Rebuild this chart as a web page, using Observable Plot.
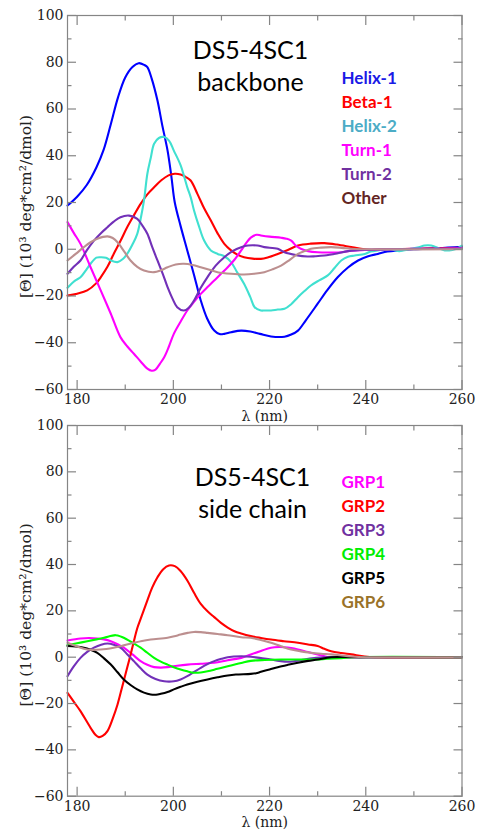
<!DOCTYPE html>
<html>
<head>
<meta charset="utf-8">
<script src="https://cdn.jsdelivr.net/npm/d3@7"></script>
<script src="https://cdn.jsdelivr.net/npm/@observablehq/plot@0.6"></script>
<style>
  html, body { margin: 0; padding: 0; background: #fff; }
  #wrap { position: relative; width: 478px; height: 834px; overflow: hidden; }
  #top, #bottom { position: absolute; left: 0; }
  #top { top: 0; }
  #bottom { top: 410px; }
</style>
</head>
<body>
<div id="wrap"><div id="top"></div><div id="bottom"></div></div>
<script>
// ---------- tick values ----------
const xMajor = [180, 200, 220, 240, 260];
const xMinor = [190, 210, 230, 250];
const yMajor = [-60, -40, -20, 0, 20, 40, 60, 80, 100];
const yMinor = [-50, -30, -10, 10, 30, 50, 70, 90];
const xLabel = "λ (nm)";
const yLabel = "[Θ] (10³ deg*cm²/dmol)";

// ---------- top panel: backbone ----------
const topTitle = ["DS5-4SC1", "backbone"];
const topNames = ["Helix-1", "Beta-1", "Helix-2", "Turn-1", "Turn-2", "Other"];
const topLineColors = ["#0000ff", "#ff0000", "#40e0d0", "#ff00ff", "#7230b8", "#bc8f8f"];
const topLegendColors = ["#1a1ae6", "#ff0000", "#4bacc6", "#ff00ff", "#7030a0", "#632523"];

const helix1 = [[178,18.7],[180,22.5],[182,27.5],[184,35],[185.5,42.5],[187,53.5],[188.5,65],[190,73.5],[191.5,78],[192.8,79.6],[194,78.8],[194.6,77.9],[195.5,73],[196.7,63.6],[197.7,53],[198.8,42.2],[199.6,31],[200.3,20],[201.5,10],[202.9,-0.5],[204.3,-11],[205.7,-21.9],[207,-29.5],[208.5,-34.8],[209.6,-36.3],[210.6,-36.2],[212,-35.5],[214.1,-34.8],[216,-35.2],[218,-36.2],[220.3,-37.3],[223.1,-37.4],[224.5,-36.5],[225.9,-34.8],[227.5,-30.5],[230,-23.3],[232,-17.5],[234.2,-11.9],[236.3,-7.8],[238.4,-4.8],[240.5,-3],[242.5,-2],[244.5,-1],[246.7,-0.5],[250,0],[255,0.4],[260,1]];
const beta1 = [[178,-19.8],[180,-19],[182.1,-17.6],[184,-14.5],[184.9,-12],[186.3,-7.5],[187.6,-2],[189,3.5],[190.4,9.4],[191.8,14.5],[193.2,19.4],[194.6,23.5],[196,26.5],[197.5,29.5],[199,31.6],[200.3,32.3],[201.5,32],[202.5,31],[203.6,29.4],[205,23.7],[206.4,17.5],[207.8,12.3],[209.2,6.8],[210.6,2.3],[212,-0.5],[213.3,-2.3],[214.7,-3.4],[216.5,-4],[218.2,-4.1],[219.6,-3.5],[221.7,-2],[223.8,-0.3],[225.9,1.6],[228.6,2.4],[231.4,2.6],[234,2],[237,0.9],[239,0.2],[241.1,-0.3],[244,0],[250,0.2],[260,0.6]];
const helix2 = [[178,-16.5],[179.5,-13.5],[180.7,-12],[182,-8.5],[182.8,-6.2],[184,-3.6],[184.9,-3.4],[186,-3.6],[187,-4.8],[188.4,-5.5],[189.5,-4.2],[190.4,-2],[191.5,2],[192.5,6.6],[193.3,14],[193.9,20.9],[194.6,32.3],[195.3,39],[196,45.1],[197,47.6],[198.1,48],[199.1,46.5],[200.1,42.2],[201.5,36],[202.9,26.5],[203.6,22.3],[204.3,16.6],[205.3,10],[206.4,3.7],[207.8,-0.5],[209.2,-2],[210.6,-3],[212,-5.5],[213.3,-10],[214.7,-14.8],[216,-20.5],[216.9,-24.8],[218.2,-26.2],[219,-26.2],[220.3,-26.2],[221.7,-25.8],[223.1,-25.5],[224.5,-23.5],[225.9,-20.5],[227.2,-18],[228.6,-15.5],[230.4,-13.2],[232.1,-11.2],[233.5,-8],[234.9,-4.8],[236.3,-3.2],[237.7,-2.7],[239.8,-2],[241,-1],[242.5,-0.5],[245,0],[247,-0.8],[249,0],[251,0.8],[252.2,1.6],[253.6,1.6],[255,0.5],[256.4,-0.5],[258,-0.3],[259,0.3],[260,1.6]];
const turn1 = [[178,11.6],[179.3,7],[180.7,2.3],[182.8,-7.7],[184.9,-17.6],[187,-27.6],[189,-37.6],[190.4,-41.5],[191.8,-44.7],[193.2,-48],[194.6,-51.1],[195.5,-52],[196.3,-51.5],[197.2,-49],[198.1,-46.2],[199.1,-41.5],[200.1,-36.2],[201.5,-31],[202.9,-26.2],[204.3,-22.5],[205.7,-19.1],[207.1,-16.2],[208.5,-13.4],[209.9,-10.5],[211.3,-7.7],[212.7,-4.5],[214.1,-0.5],[215.2,2.8],[216.1,5],[217.3,6.2],[218.2,5.9],[220,5.4],[222.4,4.9],[223.5,4.5],[224.5,3.7],[225.5,1.5],[226.5,0.2],[228,-0.8],[230,-1.3],[232.5,-1.4],[234.9,-1.3],[237,-0.6],[239.8,-0.3],[245,0],[250,0.2],[255,0.2],[260,0.5]];
const turn2 = [[178,-10.5],[179.3,-7.5],[180.7,-4.8],[182,-0.5],[183.5,3.7],[185,7],[186.3,9.4],[187.6,11.8],[189,13.7],[190.8,14.4],[192.5,13],[193.6,10],[194.6,6.6],[195.6,1],[196.7,-4.8],[197.8,-10.5],[198.8,-16.2],[199.8,-21],[200.8,-24.8],[202.2,-26.2],[203.2,-25],[204.3,-21.9],[205.7,-16.5],[207.1,-11.9],[208.8,-7],[210.6,-3.4],[212.3,-0.8],[214.1,0.9],[215.5,1.6],[217.5,1.6],[218.9,0.9],[221.7,0.2],[223.1,-1.3],[225.5,-2.5],[227.9,-3.1],[229.5,-3],[231.4,-2.7],[234,-1.8],[236.3,-0.8],[240,-0.2],[245,0],[260,0.3]];
const other = [[178,-4.8],[179.7,-2],[181.4,0.9],[182.8,3],[184.2,4.5],[186.3,5.5],[187.4,4.8],[188.4,3],[189.8,-1],[191.1,-4.8],[192.5,-7.5],[193.9,-9.1],[196,-9.8],[197.4,-9],[198.8,-7.7],[200.5,-6.5],[202.2,-6.2],[204,-6.7],[205.7,-7.7],[207.5,-8.8],[209.2,-9.8],[212,-10.5],[214.7,-10.8],[216.8,-10.5],[218.9,-9.8],[220.6,-8.6],[222.4,-7],[224.2,-4.5],[225.9,-2],[227.3,-0.8],[228.6,0.2],[230.7,0.7],[232.8,0.9],[235,0.6],[237,0.2],[240,0],[260,0]];

// ---------- bottom panel: side chain ----------
const bottomTitle = ["DS5-4SC1", "side chain"];
const bottomNames = ["GRP1", "GRP2", "GRP3", "GRP4", "GRP5", "GRP6"];
const bottomLineColors = ["#ff00ff", "#ff0000", "#7230b8", "#00ff00", "#000000", "#bc8f8f"];
const bottomLegendColors = ["#ff00ff", "#ff0000", "#7030a0", "#00ee00", "#000000", "#9a7228"];

const grp1 = [[178,7.2],[180.7,8.1],[182.5,8.3],[184.2,8.1],[185.6,7.7],[187,6.9],[188.4,5.6],[189.7,4.1],[191.5,1.2],[193.2,-1.7],[194.6,-3.3],[196,-4.3],[197.4,-4.5],[198.8,-4.3],[200.8,-3.7],[202.9,-3.2],[205.7,-2.8],[208.5,-2.4],[211.3,-1.3],[214.1,-0.3],[216.1,1.2],[218.2,2.7],[220.3,4.1],[222,4.4],[223.1,4.3],[224.5,3.9],[225.9,3.3],[228,2.2],[230,1.2],[232.8,-0.2],[236,-0.2],[240,0],[260,0]];
const grp2 = [[178,-15.4],[179.4,-19.5],[180.7,-23.3],[182.8,-30.5],[183.8,-33.5],[184.5,-34.5],[185.3,-34],[186.3,-31.9],[187.4,-26.5],[188.4,-20.4],[189.4,-12.5],[190.4,-4.6],[191.1,1],[191.8,6.9],[192.5,12.5],[193.2,16.5],[194.6,24.5],[195.6,30],[196.7,34.5],[197.9,38],[199.1,39.6],[200.3,39.3],[201.5,37.2],[202.9,33.1],[204.3,27.8],[205.7,23],[207.1,19.8],[208.5,17.3],[209.9,14.8],[211.3,12.8],[212.7,11.2],[214.1,10.2],[216.1,9.1],[218.2,8.3],[220.3,7.6],[223,6.9],[225.9,6.2],[228,5.5],[230,4.8],[231.4,3.6],[232.8,2.6],[234.9,1.8],[237,1.2],[239.8,0.3],[242,0],[260,0]];
const grp3 = [[178,-8.2],[179.3,-4],[180.7,-0.3],[182.1,2.3],[183.5,4.1],[185,5.4],[186.3,5.9],[187.6,5.4],[189,4.1],[190.4,1.3],[191.8,-1.7],[193.2,-4.8],[194.6,-7.5],[196.3,-9.4],[198.1,-10.4],[200.1,-10.4],[201.5,-9.6],[202.9,-8.2],[204.3,-6.4],[205.7,-4.6],[207.1,-3],[208.5,-1.7],[210,-0.7],[211.3,0],[214.1,0.4],[216.1,0.2],[218.2,-0.4],[220.3,-1],[222,-1.6],[223.8,-2],[225.5,-1.6],[227.2,-1],[229.3,-0.4],[231.4,0],[240,0],[260,0]];
const grp4 = [[178,5.2],[180,6],[182.1,6.9],[184,7.7],[185.6,8.4],[188,9.5],[189.2,8.8],[190.4,7.6],[191.8,5.9],[193.2,4.1],[194.6,1.9],[196,-0.3],[197.4,-1.9],[198.8,-3.2],[200.1,-4.3],[201.5,-5.3],[202.9,-6.1],[204.3,-6.7],[205.7,-6.6],[207.1,-6.1],[209.2,-5],[211.3,-3.9],[214.1,-2.5],[216.1,-1.6],[219,-1.2],[222.4,-1],[226,-1],[229.3,-1],[232,-0.7],[234.9,-0.4],[238,0],[260,0]];
const grp5 = [[178,4.8],[179.7,4.6],[181.4,4.1],[182.8,3.2],[184.2,1.9],[185.6,-0.5],[187,-3.2],[188.4,-6.5],[189.7,-9.6],[191.1,-12],[192.5,-13.9],[193.9,-15.3],[195.3,-16.1],[196.4,-16.2],[197.4,-15.8],[198.8,-15],[200.1,-13.9],[201.5,-12.8],[202.9,-11.8],[205,-10.6],[207.1,-9.6],[209.2,-8.7],[211.3,-7.9],[213,-7.5],[216.1,-7.2],[217.2,-6.9],[218.2,-6.3],[220,-5.3],[221.7,-4.3],[223.8,-3.3],[225.9,-2.4],[228,-1.6],[230,-1],[232.8,0],[240,0],[260,0]];
const grp6 = [[178,6.2],[180,4.6],[182.1,3.3],[184.9,3.3],[187.6,4.1],[189.7,5.1],[191.8,6.2],[193.5,7],[195.3,7.6],[198.8,8.4],[200.2,9],[201.5,9.8],[203,10.5],[204.3,10.9],[205.7,10.8],[207.1,10.5],[209.2,10],[211.3,9.5],[214.1,8.6],[216.1,8.4],[218.2,7.4],[220.3,6.2],[222.4,4.7],[224.5,3.3],[226.5,2.5],[228.6,1.9],[230.7,1.5],[232.8,1.2],[235,0.7],[237,0.3],[240,0],[260,0]];

const topSeries = [helix1, beta1, helix2, turn1, turn2, other];
const bottomSeries = [grp1, grp2, grp3, grp4, grp5, grp6];

// ---------- builder ----------
const frameColor = "#858585";
const serif = "DejaVu Serif";
const sans = "Lato";
const WIDTH = 478, ML = 67, MR = 16.5;

function toRows(names, series) {
  return names.flatMap((name, i) => series[i].map(([x, y]) => ({name, x, y})));
}

// inward ticks on all four sides (negative tick size points into the frame)
function innerTicks() {
  const c = {stroke: frameColor, strokeWidth: 1.2, tickFormat: () => "", label: null};
  const out = [];
  for (const [vals, len] of [[xMinor, 4.5], [xMajor, 9]]) {
    out.push(Plot.axisX(vals, {...c, anchor: "bottom", tickSize: -len}));
    out.push(Plot.axisX(vals, {...c, anchor: "top", tickSize: -len}));
  }
  for (const [vals, len] of [[yMinor, 4.5], [yMajor, 9]]) {
    out.push(Plot.axisY(vals, {...c, anchor: "left", tickSize: -len}));
    out.push(Plot.axisY(vals, {...c, anchor: "right", tickSize: -len}));
  }
  return out;
}

function panel({height, marginTop, marginBottom, names, series, lineColors, legendColors, title, titleDx, titleDy, legendDy}) {
  const txt = {fontFamily: serif, fontSize: 14, fill: "#222"};
  return Plot.plot({
    width: WIDTH,
    height,
    marginLeft: ML,
    marginRight: MR,
    marginTop,
    marginBottom,
    style: {background: "transparent", overflow: "visible"},
    x: {domain: [178, 260], axis: null},
    y: {domain: [-60, 100], axis: null},
    color: {domain: names, range: lineColors},
    marks: [
      Plot.line(toRows(names, series), {x: "x", y: "y", z: "name", stroke: "name", strokeWidth: 2.1, curve: "catmull-rom"}),
      Plot.frame({stroke: frameColor, strokeWidth: 1.2}),
      ...innerTicks(),
      Plot.axisX(xMajor, {anchor: "bottom", tickSize: 0, tickPadding: 5, label: null, ...txt}),
      Plot.axisY(yMajor, {anchor: "left", tickSize: 0, tickPadding: 4, label: null, ...txt}),
      Plot.text([xLabel], {text: d => d, frameAnchor: "bottom", dy: 31, lineAnchor: "bottom", ...txt}),
      Plot.text([yLabel], {text: d => d, frameAnchor: "left", rotate: -90, dx: -37, dy: 4, lineAnchor: "bottom", textAnchor: "middle", fontFamily: serif, fontSize: 15.5, fill: "#222"}),
      ...title.map((t, i) => Plot.text([t], {text: d => d, frameAnchor: "top-left", dx: titleDx, dy: titleDy + i * 32, textAnchor: "middle", lineAnchor: "bottom", fontFamily: sans, fontSize: 25, fill: "#000"})),
      ...names.map((n, i) => Plot.text([n], {text: d => d, frameAnchor: "top-left", dx: 274, dy: legendDy + i * 24, textAnchor: "start", lineAnchor: "bottom", fontFamily: sans, fontWeight: "bold", fontSize: 17, fill: legendColors[i]}))
    ]
  });
}

document.getElementById("top").append(panel({
  height: 425, marginTop: 15, marginBottom: 36,
  names: topNames, series: topSeries, lineColors: topLineColors, legendColors: topLegendColors,
  title: topTitle, titleDx: 183, titleDy: 43, legendDy: 68
}));
document.getElementById("bottom").append(panel({
  height: 424, marginTop: 15, marginBottom: 38.3,
  names: bottomNames, series: bottomSeries, lineColors: bottomLineColors, legendColors: bottomLegendColors,
  title: bottomTitle, titleDx: 185, titleDy: 60, legendDy: 62
}));
</script>
</body>
</html>
